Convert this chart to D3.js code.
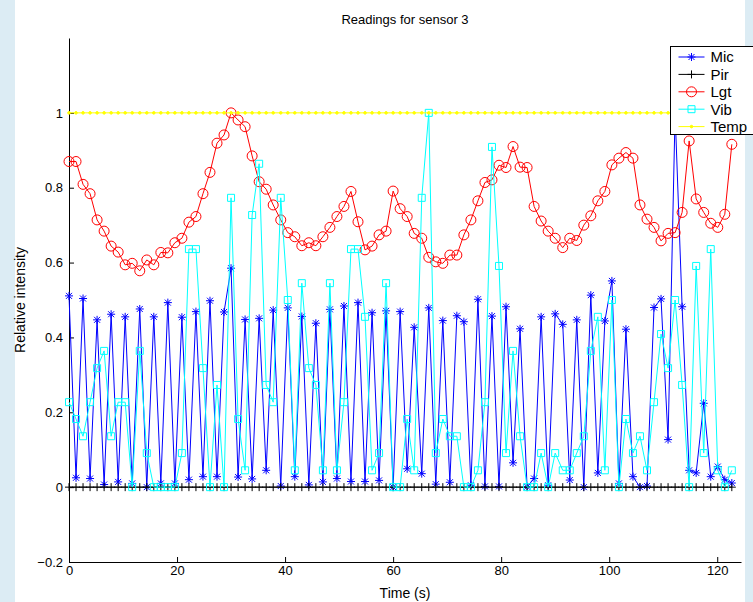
<!DOCTYPE html>
<html>
<head>
<meta charset="utf-8">
<script src="https://cdn.jsdelivr.net/npm/d3@7"></script>
<style>
body { margin: 0; background: #dcecf4; }
text { font-family: "Liberation Sans", Arial, sans-serif; }
</style>
</head>
<body>
<div id="chart"></div>
<script>
// sample times (s)
var times = [0, 1.3, 2.6, 3.9, 5.2, 6.5, 7.8, 9.1, 10.4, 11.7,
	13.1, 14.4, 15.7, 17.0, 18.3, 19.6, 20.9, 22.2, 23.5, 24.8,
	26.1, 27.4, 28.7, 30.0, 31.3, 32.6, 33.9, 35.2, 36.5, 37.8,
	39.2, 40.5, 41.8, 43.1, 44.4, 45.7, 47.0, 48.3, 49.6, 50.9,
	52.2, 53.5, 54.8, 56.1, 57.4, 58.7, 60.0, 61.3, 62.6, 63.9,
	65.3, 66.6, 67.9, 69.2, 70.5, 71.8, 73.1, 74.4, 75.7, 77.0,
	78.3, 79.6, 80.9, 82.2, 83.5, 84.8, 86.1, 87.4, 88.7, 90.0,
	91.4, 92.7, 94.0, 95.3, 96.6, 97.9, 99.2, 100.5, 101.8, 103.1,
	104.4, 105.7, 107.0, 108.3, 109.6, 110.9, 112.2, 113.5, 114.8, 116.1,
	117.5, 118.8, 120.1, 121.4, 122.7];

var mic = [0.511, 0.025, 0.504, 0.023, 0.447, 0.007, 0.462, 0.014, 0.455, 0.010,
	0.476, 0.000, 0.455, 0.010, 0.493, 0.010, 0.454, 0.020, 0.469, 0.028,
	0.498, 0.028, 0.468, 0.585, 0.027, 0.448, 0.022, 0.451, 0.045, 0.473,
	0.003, 0.479, 0.028, 0.456, 0.006, 0.438, 0.014, 0.475, 0.023, 0.484,
	0.015, 0.493, 0.015, 0.466, 0.018, 0.471, 0.000, 0.469, 0.049, 0.427,
	0.036, 0.479, 0.008, 0.445, 0.013, 0.458, 0.442, 0.005, 0.502, 0.002,
	0.457, 0.002, 0.482, 0.065, 0.423, 0.001, 0.023, 0.455, 0.005, 0.463,
	0.435, 0.019, 0.447, 0.000, 0.513, 0.038, 0.444, 0.551, 0.010, 0.422,
	0.028, 0.000, 0.003, 0.480, 0.503, 0.127, 1.000, 0.482, 0.045, 0.038,
	0.224, 0.028, 0.055, 0.020, 0.011];

var pir = [0, 0, 0, 0, 0, 0, 0, 0, 0, 0, 0, 0, 0, 0, 0, 0, 0, 0, 0, 0,
	0, 0, 0, 0, 0, 0, 0, 0, 0, 0, 0, 0, 0, 0, 0, 0, 0, 0, 0, 0,
	0, 0, 0, 0, 0, 0, 0, 0, 0, 0, 0, 0, 0, 0, 0, 0, 0, 0, 0, 0,
	0, 0, 0, 0, 0, 0, 0, 0, 0, 0, 0, 0, 0, 0, 0, 0, 0, 0, 0, 0,
	0, 0, 0, 0, 0, 0, 0, 0, 0, 0, 0, 0, 0, 0, 0];

var lgt = [0.870, 0.870, 0.809, 0.784, 0.714, 0.684, 0.644, 0.628, 0.594, 0.598,
	0.578, 0.607, 0.594, 0.627, 0.626, 0.653, 0.665, 0.708, 0.723, 0.784,
	0.841, 0.919, 0.941, 1.000, 0.981, 0.963, 0.885, 0.816, 0.796, 0.754,
	0.714, 0.680, 0.669, 0.645, 0.653, 0.645, 0.669, 0.694, 0.723, 0.750,
	0.790, 0.709, 0.634, 0.644, 0.674, 0.684, 0.791, 0.744, 0.723, 0.678,
	0.665, 0.614, 0.602, 0.598, 0.620, 0.620, 0.674, 0.714, 0.765, 0.814,
	0.821, 0.860, 0.854, 0.910, 0.855, 0.854, 0.750, 0.711, 0.684, 0.665,
	0.640, 0.665, 0.659, 0.700, 0.725, 0.765, 0.790, 0.861, 0.879, 0.894,
	0.879, 0.754, 0.716, 0.694, 0.658, 0.678, 0.680, 0.734, 0.925, 0.770,
	0.734, 0.705, 0.694, 0.729, 0.916];

var vib = [0.227, 0.182, 0.136, 0.227, 0.318, 0.364, 0.136, 0.227, 0.227, 0,
	0.364, 0.091, 0, 0, 0, 0, 0.091, 0.636, 0.636, 0.318,
	0, 0.273, 0, 0.773, 0.182, 0.045, 0.727, 0.864, 0.273, 0.227,
	0.773, 0.5, 0.045, 0.545, 0.318, 0.273, 0.045, 0.545, 0.045, 0.227,
	0.636, 0.636, 0.455, 0.045, 0.091, 0.545, 0, 0, 0.182, 0.045,
	0.773, 1.0, 0.091, 0.182, 0.136, 0.136, 0, 0, 0.045, 0.227,
	0.909, 0.591, 0.091, 0.364, 0.136, 0, 0, 0.091, 0, 0.091,
	0.045, 0.045, 0.091, 0.136, 0.364, 0.455, 0.045, 0.5, 0, 0.182,
	0.091, 0.136, 0.045, 0.227, 0.409, 0.318, 0.5, 0.273, 0, 0.591,
	0.091, 0.636, 0.045, 0, 0.045];

var temp = [1, 1, 1, 1, 1, 1, 1, 1, 1, 1, 1, 1, 1, 1, 1, 1, 1, 1, 1, 1,
	1, 1, 1, 1, 1, 1, 1, 1, 1, 1, 1, 1, 1, 1, 1, 1, 1, 1, 1, 1,
	1, 1, 1, 1, 1, 1, 1, 1, 1, 1, 1, 1, 1, 1, 1, 1, 1, 1, 1, 1,
	1, 1, 1, 1, 1, 1, 1, 1, 1, 1, 1, 1, 1, 1, 1, 1, 1, 1, 1, 1,
	1, 1, 1, 1, 1, 1, 1, 1, 1, 1, 1, 1, 1, 1, 1];

var seriesNames = ["Mic", "Pir", "Lgt", "Vib", "Temp"];
var xTicks = [0, 20, 40, 60, 80, 100, 120];
var yTicks = [-0.2, 0, 0.2, 0.4, 0.6, 0.8, 1];

// plot box (window.top is read-only, so no "top" here)
var W = 753, H = 602,
	plotL = 69, plotR = 741, plotT = 38, plotB = 562;

var series = [
	{name: seriesNames[0], values: mic, color: "#0000ff", marker: "star"},
	{name: seriesNames[1], values: pir, color: "#000000", marker: "plus"},
	{name: seriesNames[2], values: lgt, color: "#ff0000", marker: "circle"},
	{name: seriesNames[3], values: vib, color: "#00ffff", marker: "square"},
	{name: seriesNames[4], values: temp, color: "#ffff00", marker: "dot"}
];

var x = d3.scaleLinear().domain([0, 124.4]).range([plotL, plotR]);
var y = d3.scaleLinear().domain([-0.2, 1.2]).range([plotB, plotT]);

var svg = d3.select("#chart").append("svg")
	.attr("width", W)
	.attr("height", H);

// white figure panel
svg.append("rect")
	.attr("x", 15).attr("y", 0)
	.attr("width", 730).attr("height", H)
	.style("fill", "white");

svg.append("text")
	.attr("x", (plotL + plotR) / 2).attr("y", 24)
	.attr("text-anchor", "middle")
	.style("font-size", "13px")
	.text("Readings for sensor 3");

// axes, ticks pointing inward like matlab
var xAxis = svg.append("g")
	.attr("transform", "translate(0," + plotB + ")")
	.call(d3.axisBottom(x).tickValues(xTicks).tickSizeInner(-5).tickSizeOuter(0).tickPadding(4).tickFormat(d3.format("~g")));
var yAxis = svg.append("g")
	.attr("transform", "translate(" + plotL + ",0)")
	.call(d3.axisLeft(y).tickValues(yTicks).tickSizeInner(-5).tickSizeOuter(0).tickPadding(6).tickFormat(d3.format("~g")));

[xAxis, yAxis].forEach(function(a) {
	a.selectAll("text").style("font-size", "13px").style("font-family", "Liberation Sans, Arial, sans-serif").attr("fill", "#000");
	a.select(".domain").attr("stroke", "#000");
	a.selectAll("line").attr("stroke", "#000");
});

svg.append("text")
	.attr("x", (plotL + plotR) / 2).attr("y", 598)
	.attr("text-anchor", "middle")
	.style("font-size", "14px")
	.text("Time (s)");

svg.append("text")
	.attr("transform", "translate(25," + ((plotT + plotB) / 2) + ") rotate(-90)")
	.attr("text-anchor", "middle")
	.style("font-size", "14px")
	.text("Relative intensity");

function markerPath(type) {
	switch (type) {
	case "star":
		return "M-4,0H4M0,-4V4M-3,-3L3,3M-3,3L3,-3";
	case "plus":
		return "M-4,0H4M0,-4V4";
	case "circle":
		return "M5,0A5,5 0 1,1 -5,0A5,5 0 1,1 5,0Z";
	case "square":
		return "M-3.5,-3.5H3.5V3.5H-3.5Z";
	default:
		return "M1.3,0A1.3,1.3 0 1,1 -1.3,0A1.3,1.3 0 1,1 1.3,0Z";
	}
}

var line = d3.line()
	.x(function(d) { return x(d.t); })
	.y(function(d) { return y(d.v); });

var plot = svg.append("g");

series.forEach(function(s) {
	var pts = s.values.map(function(v, i) { return {t: times[i], v: v}; });
	var g = plot.append("g").attr("class", "series");
	g.append("path")
		.datum(pts)
		.attr("d", line)
		.style("fill", "none")
		.style("stroke", s.color)
		.style("stroke-width", 1);
	g.selectAll(".mk")
		.data(pts)
		.enter().append("path")
		.attr("class", "mk")
		.attr("transform", function(d) { return "translate(" + x(d.t) + "," + y(d.v) + ")"; })
		.attr("d", markerPath(s.marker))
		.style("fill", s.marker == "dot" ? s.color : "none")
		.style("stroke", s.color)
		.style("stroke-width", 1);
});

// legend
var lx = 670.5, ly = 46.5, rowH = 17.4;
var legend = svg.append("g");
legend.append("rect")
	.attr("x", lx).attr("y", ly)
	.attr("width", 95).attr("height", 88)
	.style("fill", "white")
	.style("stroke", "#000");

var items = legend.selectAll(".item")
	.data(series)
	.enter().append("g")
	.attr("class", "item")
	.attr("transform", function(d, i) { return "translate(" + lx + "," + (ly + 10.5 + i * rowH) + ")"; });

items.append("line")
	.attr("x1", 8).attr("x2", 34)
	.style("stroke", function(d) { return d.color; });
items.append("path")
	.attr("transform", "translate(21,0)")
	.attr("d", function(d) { return markerPath(d.marker); })
	.style("fill", function(d) { return d.marker == "dot" ? d.color : "none"; })
	.style("stroke", function(d) { return d.color; });
items.append("text")
	.attr("x", 40).attr("dy", "0.36em")
	.style("font-size", "15px")
	.text(function(d) { return d.name; });
</script>
</body>
</html>
